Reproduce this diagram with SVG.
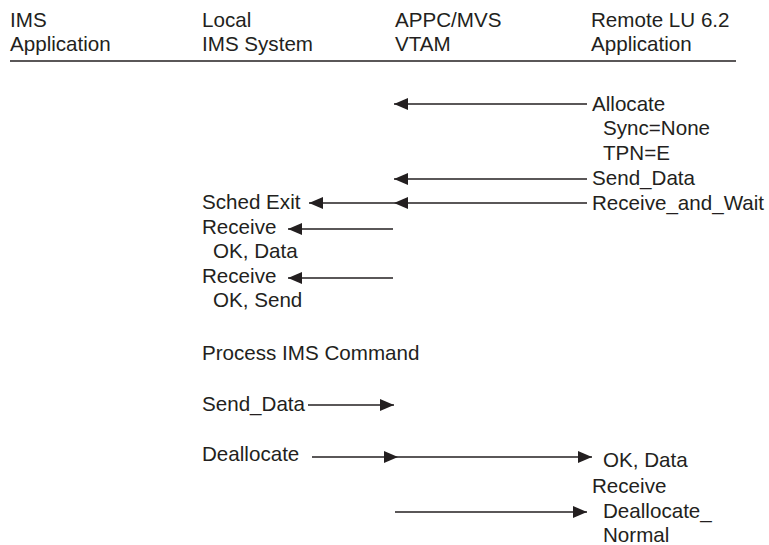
<svg xmlns="http://www.w3.org/2000/svg" width="769" height="545" viewBox="0 0 769 545">
<style>
text{font-family:"Liberation Sans",Arial,sans-serif;font-size:20.6px;fill:#231f20}
.ln{stroke:#231f20;stroke-width:1.4;fill:none}
</style>
<defs>
<marker id="ah" markerUnits="userSpaceOnUse" markerWidth="15" markerHeight="13" refX="14" refY="6.5" orient="auto">
<path d="M0,0.5 L14,6.5 L0,12.5 z" fill="#231f20"/>
</marker>
</defs>
<rect width="769" height="545" fill="#fff"/>
<g id="header">
<text x="10" y="27">IMS</text><text x="10" y="51">Application</text>
<text x="202" y="27">Local</text><text x="202" y="51">IMS System</text>
<text x="395" y="27">APPC/MVS</text><text x="395" y="51">VTAM</text>
<text x="591" y="27">Remote LU 6.2</text><text x="591" y="51">Application</text>
<line x1="10" y1="61" x2="736" y2="61" class="ln" stroke-width="1.6"/>
</g>
<g id="remote">
<text x="592" y="111">Allocate</text>
<text x="603" y="135">Sync=None</text>
<text x="603" y="160">TPN=E</text>
<text x="592" y="185">Send_Data</text>
<text x="592" y="210">Receive_and_Wait</text>
<text x="603" y="467">OK, Data</text>
<text x="592" y="493">Receive</text>
<text x="603" y="518">Deallocate_</text>
<text x="603" y="542">Normal</text>
</g>
<g id="local">
<text x="202" y="209">Sched Exit</text>
<text x="202" y="234">Receive</text>
<text x="213" y="258">OK, Data</text>
<text x="202" y="283">Receive</text>
<text x="213" y="307">OK, Send</text>
<text x="202" y="360">Process IMS Command</text>
<text x="202" y="411">Send_Data</text>
<text x="202" y="461">Deallocate</text>
</g>
<g id="connectors" class="ln">
<line x1="587" y1="104" x2="394" y2="104" marker-end="url(#ah)"/>
<line x1="587" y1="179" x2="394" y2="179" marker-end="url(#ah)"/>
<line x1="587" y1="203" x2="394" y2="203" marker-end="url(#ah)"/>
<line x1="394" y1="203" x2="309" y2="203" marker-end="url(#ah)"/>
<line x1="393" y1="229" x2="288" y2="229" marker-end="url(#ah)"/>
<line x1="393" y1="278" x2="288" y2="278" marker-end="url(#ah)"/>
<line x1="308" y1="405" x2="394" y2="405" marker-end="url(#ah)"/>
<line x1="312" y1="457" x2="398" y2="457" marker-end="url(#ah)"/>
<line x1="398" y1="457" x2="592" y2="457" marker-end="url(#ah)"/>
<line x1="395" y1="512" x2="587" y2="512" marker-end="url(#ah)"/>
</g>
</svg>
